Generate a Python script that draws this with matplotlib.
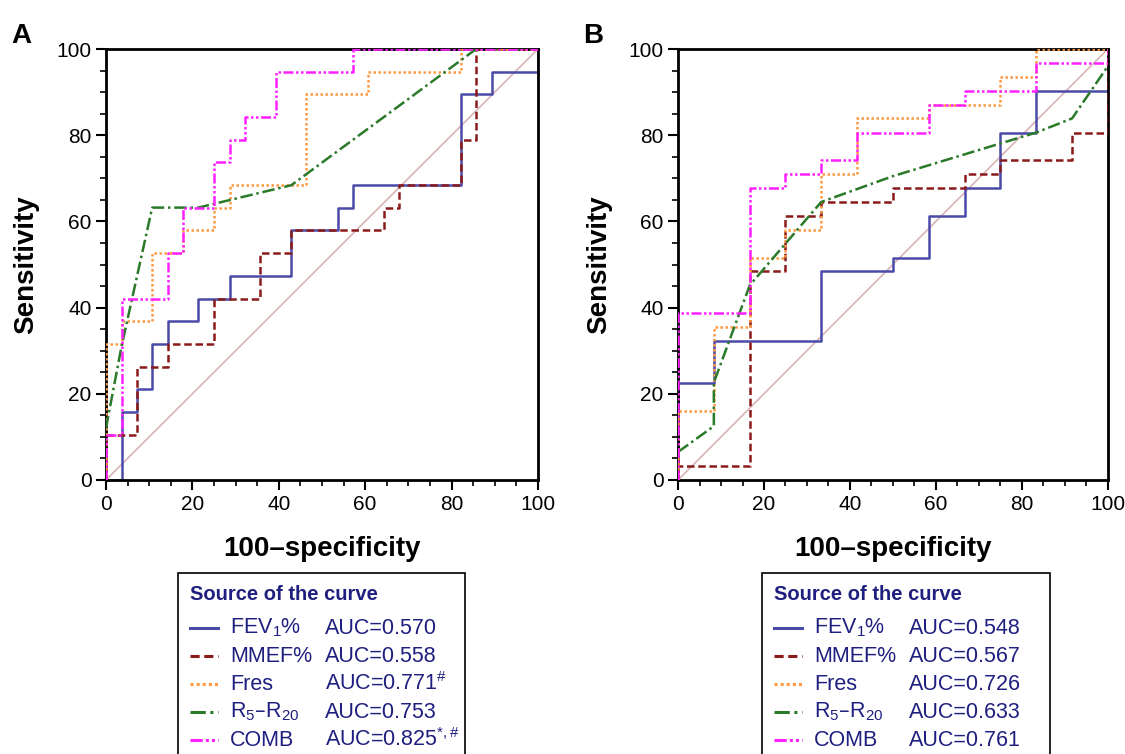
import matplotlib
matplotlib.use("Agg")
import matplotlib.pyplot as plt
from matplotlib.patches import Rectangle
from matplotlib.lines import Line2D
from matplotlib.ticker import MultipleLocator

plt.rcParams['font.family'] = ['Liberation Sans', 'DejaVu Sans']
plt.rcParams['mathtext.default'] = 'regular'

# ---- panel A data (step corners, steps-post) ----
a_fev_x = [0, 3.6, 7.1, 10.7, 14.3, 21.4, 28.6, 42.9, 53.6, 57.1, 82.1, 89.3, 100]
a_fev_y = [0, 15.8, 21.1, 31.6, 36.8, 42.1, 47.4, 57.9, 63.2, 68.4, 89.5, 94.7, 100]
a_mmef_x = [0, 0, 7.1, 14.3, 25, 35.7, 42.9, 64.3, 67.9, 82.1, 85.7, 100]
a_mmef_y = [0, 10.5, 26.3, 31.6, 42.1, 52.6, 57.9, 63.2, 68.4, 78.9, 100, 100]
a_fres_x = [0, 0, 3.6, 10.7, 17.9, 25, 28.6, 46.4, 60.7, 82.1, 100]
a_fres_y = [0, 31.6, 36.8, 52.6, 57.9, 63.2, 68.4, 89.5, 94.7, 100, 100]
a_comb_x = [0, 0, 3.6, 14.3, 17.9, 25, 28.6, 32.1, 39.3, 57.1, 100]
a_comb_y = [0, 10.5, 42.1, 52.6, 63.2, 73.7, 78.9, 84.2, 94.7, 100, 100]
a_r5_x = [0, 3.6, 10.7, 21.4, 42.9, 85.7, 100]
a_r5_y = [12, 31, 63.2, 63.2, 68.4, 100, 100]
a_auc = ['AUC=0.570', 'AUC=0.558', 'AUC=0.771$^{\\#}$', 'AUC=0.753', 'AUC=0.825$^{*,\\#}$']

# ---- panel B data ----
b_fev_x = [0, 0, 8.33, 33.3, 50, 58.3, 66.7, 75, 83.3, 100]
b_fev_y = [0, 22.6, 32.3, 48.4, 51.6, 61.3, 67.7, 80.6, 90.3, 100]
b_mmef_x = [0, 0, 16.7, 25, 33.3, 50, 66.7, 75, 91.7, 100]
b_mmef_y = [0, 3.2, 48.4, 61.3, 64.5, 67.7, 71, 74.2, 80.6, 100]
b_fres_x = [0, 0, 8.33, 16.7, 25, 33.3, 41.7, 58.3, 75, 83.3, 100]
b_fres_y = [0, 16.1, 35.5, 51.6, 58.1, 71, 83.9, 87.1, 93.5, 100, 100]
b_comb_x = [0, 0, 16.7, 25, 33.3, 41.7, 58.3, 66.7, 83.3, 100]
b_comb_y = [0, 38.7, 67.7, 71, 74.2, 80.6, 87.1, 90.3, 96.8, 100]
b_r5_x = [0, 8.33, 8.33, 16.7, 33.3, 50, 83.3, 91.7, 100]
b_r5_y = [6.5, 12.5, 22.6, 45.2, 64.5, 70.5, 80.6, 83.9, 96]
b_auc = ['AUC=0.548', 'AUC=0.567', 'AUC=0.726', 'AUC=0.633', 'AUC=0.761']

names = ['FEV$_1$%', 'MMEF%', 'Fres', 'R$_5$–R$_{20}$', 'COMB']
colors = ['#4a4aa8', '#8b1a1a', '#ff9a40', '#2a7a2a', '#ff20ff']
styles = ['-', (0, (3, 1.5)), (0, (1, 1)), (0, (5, 1.5, 1, 1.5)), (0, (4, 1, 1, 1, 1, 1))]
navy = '#1f1f80'

fig = plt.figure(figsize=(11.25, 7.54), dpi=100)


def panel(rect, letter, data):
    ax = fig.add_axes(rect)
    ax.plot([0, 100], [0, 100], color='#d8b4b4', lw=1.2, zorder=1)
    for i, (xs, ys) in enumerate(data):
        ds = 'default' if i == 3 else 'steps-post'
        ax.plot(xs, ys, drawstyle=ds, color=colors[i], ls=styles[i], lw=1.8, zorder=2 + i)
    ax.set_xlim(0, 100)
    ax.set_ylim(0, 100)
    ax.xaxis.set_major_locator(MultipleLocator(20))
    ax.yaxis.set_major_locator(MultipleLocator(20))
    ax.xaxis.set_minor_locator(MultipleLocator(5))
    ax.yaxis.set_minor_locator(MultipleLocator(5))
    ax.tick_params(which='major', length=7, width=1.5, labelsize=15, direction='out')
    ax.tick_params(which='minor', length=4, width=1.2, direction='out')
    for s in ax.spines.values():
        s.set_linewidth(2)
    ax.set_xlabel('100–specificity', fontsize=20, fontweight='bold', labelpad=16)
    ax.set_ylabel('Sensitivity', fontsize=20, fontweight='bold', labelpad=12)
    ax.text(-0.22, 1.0, letter, transform=ax.transAxes, fontsize=20,
            fontweight='bold', va='bottom', ha='left')
    return ax


panel([0.0942, 0.3634, 0.384, 0.5716], 'A',
      [(a_fev_x, a_fev_y), (a_mmef_x, a_mmef_y), (a_fres_x, a_fres_y),
       (a_r5_x, a_r5_y), (a_comb_x, a_comb_y)])
panel([0.6027, 0.3634, 0.382, 0.5716], 'B',
      [(b_fev_x, b_fev_y), (b_mmef_x, b_mmef_y), (b_fres_x, b_fres_y),
       (b_r5_x, b_r5_y), (b_comb_x, b_comb_y)])


def legend_box(x0, x1, auc):
    W, H = 1125, 754
    fig.patches.append(Rectangle((x0 / W, -0.01), (x1 - x0) / W, (H - 573) / H + 0.01,
                                 transform=fig.transFigure, fill=False, lw=1.2,
                                 edgecolor='black'))
    fig.text((x0 + 12) / W, 1 - 594 / H, 'Source of the curve', fontsize=14.5,
             fontweight='bold', color=navy, va='center')
    for k in range(5):
        yy = 1 - (628 + 28 * k) / H
        fig.lines.append(Line2D([(x0 + 12) / W, (x0 + 40) / W], [yy, yy],
                                transform=fig.transFigure, color=colors[k],
                                ls=styles[k], lw=2.2))
        fig.text((x0 + 52) / W, yy, names[k], fontsize=15.5, color=navy, va='center')
        fig.text((x0 + 147) / W, yy, auc[k], fontsize=15.5, color=navy, va='center')


legend_box(178, 465, a_auc)
legend_box(762, 1050, b_auc)

fig.savefig('out.png', dpi=100)
